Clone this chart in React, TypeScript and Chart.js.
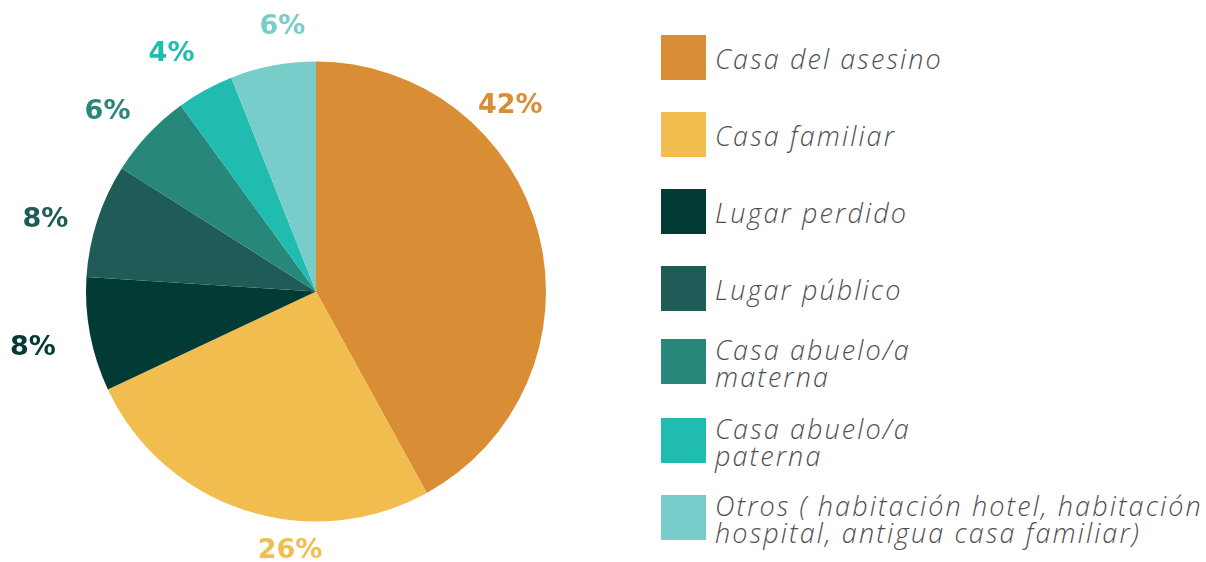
import React, { useEffect, useRef } from "react";
import { Chart, registerables } from "chart.js";

Chart.register(...registerables);

const categories = [
  "Casa del asesino",
  "Casa familiar",
  "Lugar perdido",
  "Lugar público",
  "Casa abuelo/a materna",
  "Casa abuelo/a paterna",
  "Otros ( habitación hotel, habitación hospital, antigua casa familiar)",
];
const legendLines = [
  ["Casa del asesino"],
  ["Casa familiar"],
  ["Lugar perdido"],
  ["Lugar público"],
  ["Casa abuelo/a", "materna"],
  ["Casa abuelo/a", "paterna"],
  ["Otros ( habitación hotel, habitación", "hospital, antigua casa familiar)"],
];
const values = [42, 26, 8, 8, 6, 4, 6];
const colors = ["#D98E36", "#F1BD4F", "#023A35", "#1F5C58", "#27877A", "#21BCB0", "#78CDCB"];

// layout-only nudges for the outside percentage labels (px)
const labelNudge: [number, number][] = [
  [-72, -117],
  [59, -2],
  [-13, 5],
  [-9, 13],
  [-8, 9],
  [-12, 3],
  [18, 6],
];
const legendTops = [35, 112, 189, 266, 339, 418, 495];

const labelPlugin = {
  id: "outsideLabels",
  afterDatasetsDraw(chart: any) {
    const ctx = chart.ctx;
    const meta = chart.getDatasetMeta(0);
    ctx.save();
    ctx.font = "700 27px 'DejaVu Sans', sans-serif";
    ctx.textAlign = "center";
    ctx.textBaseline = "middle";
    meta.data.forEach((arc: any, i: number) => {
      const { x, y, startAngle, endAngle, outerRadius } = arc.getProps(
        ["x", "y", "startAngle", "endAngle", "outerRadius"],
        true
      );
      const mid = (startAngle + endAngle) / 2;
      const d = outerRadius + 45;
      const lx = x + Math.cos(mid) * d + labelNudge[i][0];
      const ly = y + Math.sin(mid) * d + labelNudge[i][1];
      ctx.fillStyle = colors[i];
      ctx.fillText(values[i] + "%", lx, ly);
    });
    ctx.restore();
  },
};

export default function App() {
  const ref = useRef<HTMLCanvasElement>(null);
  useEffect(() => {
    if (!ref.current) return;
    const chart = new Chart(ref.current, {
      type: "pie",
      data: {
        labels: categories,
        datasets: [
          {
            data: values,
            backgroundColor: colors,
            borderWidth: 0,
          },
        ],
      },
      options: {
        animation: false,
        responsive: false,
        maintainAspectRatio: false,
        layout: { padding: { left: 86, right: 94, top: 61, bottom: 40 } },
        plugins: {
          legend: { display: false },
          tooltip: { enabled: false },
        },
      },
      plugins: [labelPlugin],
    });
    return () => chart.destroy();
  }, []);

  return (
    <div
      style={{
        position: "absolute",
        left: 0,
        top: 0,
        width: 1206,
        height: 562,
        background: "#fff",
        overflow: "hidden",
      }}
    >
      <canvas
        ref={ref}
        width={640}
        height={562}
        style={{ position: "absolute", left: 0, top: 0, width: 640, height: 562 }}
      />
      {legendLines.map((lines, i) => (
        <div
          key={i}
          style={{
            position: "absolute",
            left: 661,
            top: legendTops[i],
            height: 45,
            display: "flex",
            alignItems: "center",
          }}
        >
          <div style={{ width: 45, height: 45, background: colors[i], flex: "none" }} />
          <div
            style={{
              marginLeft: 9,
              fontFamily: "'Open Sans', sans-serif",
              fontStyle: "italic",
              fontWeight: 300,
              fontSize: 27,
              lineHeight: "27px",
              letterSpacing: "2.1px",
              color: "#505050",
              whiteSpace: "nowrap",
              marginTop: 2,
            }}
          >
            {lines.map((l, j) => (
              <div key={j}>{l}</div>
            ))}
          </div>
        </div>
      ))}
    </div>
  );
}
